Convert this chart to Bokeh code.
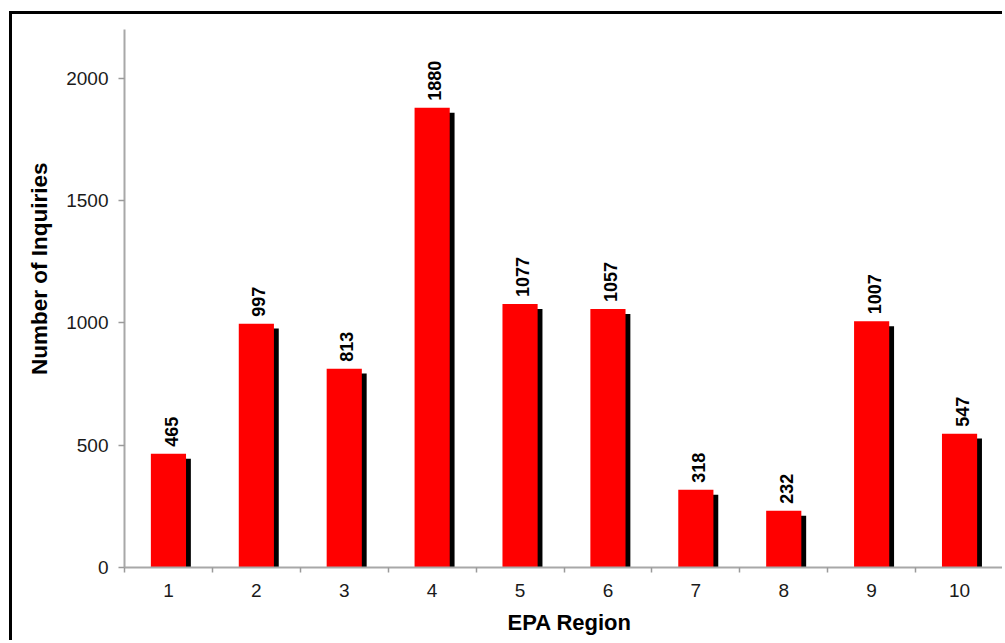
from bokeh.plotting import figure
from bokeh.models import Range1d, FixedTicker, ColumnDataSource, Title
from bokeh.transform import dodge
from bokeh.embed import file_html
from bokeh.resources import INLINE
from bokeh.core.properties import value

# ---- data ----
regions = [1, 2, 3, 4, 5, 6, 7, 8, 9, 10]
inquiries = [465, 997, 813, 1880, 1077, 1057, 318, 232, 1007, 547]
region_labels = ["1", "2", "3", "4", "5", "6", "7", "8", "9", "10"]
y_ticks = [0, 500, 1000, 1500, 2000]

FONT = "Liberation Sans"

src = ColumnDataSource(dict(
    x=regions,
    top=inquiries,
    shadow_top=[v - 20 for v in inquiries],
    label=[str(v) for v in inquiries],
))

p = figure(width=993, height=629, output_backend="svg", toolbar_location=None,
           x_range=Range1d(0.5, 10.5), y_range=Range1d(0, 2200),
           min_border_left=112, min_border_right=2, min_border_top=15,
           min_border_bottom=76)
p.title.visible = False
p.xgrid.visible = False
p.ygrid.visible = False
p.outline_line_color = None
p.background_fill_color = "white"
p.border_fill_color = "white"

# shadow bars
p.vbar(x=dodge("x", 0.055, range=p.x_range), top="shadow_top", bottom=0,
       width=0.4, source=src, fill_color="black", line_color=None)
# red bars
p.vbar(x="x", top="top", bottom=0, width=0.4, source=src,
       fill_color="#ff0000", line_color=None)
# value labels
p.text(x=dodge("x", 0.03, range=p.x_range), y="top", text="label", source=src,
       angle=1.5708, text_align="left", text_baseline="middle",
       y_offset=-7, text_font=value(FONT), text_font_style="bold",
       text_font_size="18px", text_color="black")

# x axis
xa = p.xaxis[0]
xa.ticker = FixedTicker(ticks=regions,
                        minor_ticks=[r - 0.5 for r in regions] + [regions[-1] + 0.5])
xa.major_label_overrides = {r: l for r, l in zip(regions, region_labels)}
xa.major_tick_line_color = None
xa.major_tick_out = 0
xa.major_tick_in = 0
xa.minor_tick_line_color = "#9a9a9a"
xa.minor_tick_out = 5
xa.minor_tick_in = 0
xa.minor_tick_line_width = 1.5
xa.axis_line_color = "#a8a8a8"
xa.axis_line_width = 2
xa.major_label_standoff = 11
xa.major_label_text_font = FONT
xa.major_label_text_font_size = "19px"
xa.major_label_text_color = "#1a1a1a"

# y axis
ya = p.yaxis[0]
ya.ticker = FixedTicker(ticks=y_ticks, minor_ticks=[])
ya.major_tick_line_color = "#9a9a9a"
ya.major_tick_out = 6
ya.major_tick_in = 0
ya.major_tick_line_width = 1.5
ya.minor_tick_line_color = None
ya.axis_line_color = "#a8a8a8"
ya.axis_line_width = 2
ya.major_label_standoff = 10
ya.major_label_text_font = FONT
ya.major_label_text_font_size = "19px"
ya.major_label_text_color = "#1a1a1a"

# axis titles (placed off-centre as in the original)
xt = Title(text="EPA Region", align="left", offset=383, standoff=17,
           text_font=FONT, text_font_size="22px", text_font_style="bold",
           text_color="black")
p.add_layout(xt, "below")
yt = Title(text="Number of Inquiries", align="right", offset=133, standoff=23,
           text_font=FONT, text_font_size="22.5px", text_font_style="bold",
           text_color="black")
p.add_layout(yt, "left")

p.styles = {"border-left": "3px solid #000", "border-top": "3px solid #000",
            "margin-left": "9px", "margin-top": "11px"}

open("out.html", "w").write(file_html(p, INLINE))
